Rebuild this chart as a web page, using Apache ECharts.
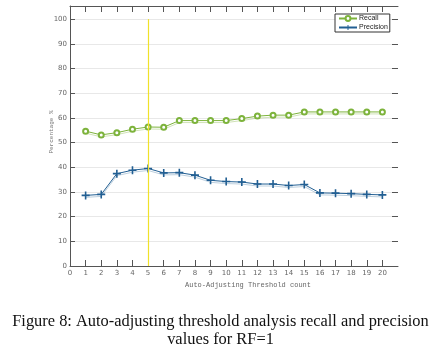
<!DOCTYPE html>
<html><head><meta charset="utf-8">
<script src="https://cdn.jsdelivr.net/npm/echarts@6/dist/echarts.min.js"></script>
<style>html,body{margin:0;padding:0;background:#fff}#c{width:441px;height:356px}</style>
</head><body><div id="c"></div>
<script>
var xValues = [1,2,3,4,5,6,7,8,9,10,11,12,13,14,15,16,17,18,19,20];
var recall = [54.6,53.1,54.0,55.4,56.3,56.2,58.9,58.9,58.9,58.9,59.7,60.7,61.1,61.1,62.4,62.4,62.4,62.4,62.4,62.4];
var precision = [28.6,29.0,37.4,38.8,39.5,37.7,37.8,36.8,34.7,34.2,34.0,33.2,33.2,32.6,33.0,29.6,29.5,29.3,29.0,28.8];
var markerX = 5;
var seriesNames = ['Recall','Precision'];
var xTitle = 'Auto-Adjusting Threshold count';
var yTitle = 'Percentage %';
var captionLines = ['Figure 8: Auto-adjusting threshold analysis recall and precision','values for RF=1'];

var chart = echarts.init(document.getElementById('c'), null, {renderer:'canvas'});
var plus = 'path://M4,0h2v4h4v2h-4v4h-2v-4h-4v-2h4z';
function pairs(v){ return xValues.map(function(x,i){ return [x, v[i]]; }); }
var xTickValues = [0].concat(xValues);
var axisCol = '#555';
chart.setOption({
  animation:false,
  grid:{left:70,right:43,top:6,bottom:90,containLabel:false},
  legend:{
    left:335, top:14, orient:'vertical', itemGap:2, itemWidth:18, itemHeight:6,
    padding:[1,2,1,3], borderColor:'#333', borderWidth:1, backgroundColor:'#fff',
    textStyle:{fontSize:7, lineHeight:7, color:'#222', fontFamily:'Liberation Sans, Arial, sans-serif', padding:[0,0,0,-3]},
    data:seriesNames
  },
  xAxis:[{
    type:'value', min:0, max:21, interval:1, position:'bottom',
    name:xTitle, nameLocation:'middle', nameGap:14,
    nameTextStyle:{fontSize:7, color:'#666', fontFamily:'Liberation Mono, DejaVu Sans Mono, monospace', padding:[0,0,0,28]},
    axisLine:{onZero:false, lineStyle:{color:axisCol, width:1}},
    axisTick:{inside:true, length:6, customValues:xTickValues, lineStyle:{color:axisCol}},
    axisLabel:{fontSize:7, color:'#666', margin:4, fontFamily:'DejaVu Sans, sans-serif',
      formatter:function(v){ return v>20 ? '' : String(v); }},
    splitLine:{show:false}
  },{
    type:'value', min:0, max:21, interval:1, position:'top',
    axisLine:{onZero:false, lineStyle:{color:axisCol, width:1}},
    axisTick:{inside:true, length:6, customValues:xTickValues, lineStyle:{color:axisCol}},
    axisLabel:{show:false}, splitLine:{show:false}
  }],
  yAxis:[{
    type:'value', min:0, max:105.3, interval:10, position:'left',
    name:yTitle, nameLocation:'middle', nameGap:16, nameRotate:90, nameMoveOverlap:false,
    nameTextStyle:{fontSize:6, color:'#777', fontFamily:'Liberation Mono, DejaVu Sans Mono, monospace', padding:[0,0,0,8]},
    axisLine:{show:true, onZero:false, lineStyle:{color:axisCol, width:1}},
    axisTick:{show:true, inside:true, length:5, lineStyle:{color:axisCol}},
    axisLabel:{fontSize:7, color:'#666', margin:3, fontFamily:'DejaVu Sans, sans-serif',
      formatter:function(v){ return v>100 ? '' : String(v); }},
    splitLine:{show:true, lineStyle:{color:'#e8e8e8', width:1}}
  },{
    type:'value', min:0, max:105.3, interval:10, position:'right',
    axisLine:{show:false, onZero:false},
    axisTick:{show:true, inside:true, length:6, lineStyle:{color:axisCol}},
    axisLabel:{show:false}, splitLine:{show:false}
  }],
  series:[{
    name:seriesNames[0], type:'line', data:pairs(recall),
    symbol:'emptyCircle', symbolSize:5, showAllSymbol:true,
    itemStyle:{color:'#7db33c', borderWidth:1},
    lineStyle:{color:'#7db33c', width:1, shadowColor:'rgba(119,172,48,0.35)', shadowBlur:0, shadowOffsetY:2},
    markLine:{
      silent:true, symbol:['none','none'], label:{show:false},
      lineStyle:{color:'#f0e22a', width:1.2, type:'solid'},
      data:[[{coord:[markerX,0]},{coord:[markerX,100]}]]
    },
    z:3
  },{
    name:seriesNames[1], type:'line', data:pairs(precision),
    symbol:plus, symbolSize:8, showAllSymbol:true,
    itemStyle:{color:'#225f93'},
    lineStyle:{color:'#225f93', width:1, shadowColor:'rgba(34,95,147,0.3)', shadowBlur:0, shadowOffsetY:2},
    z:3
  }],
  graphic:[{
    type:'text', left:'center', top:313,
    style:{text:captionLines.join('\n'), font:'16.4px "Liberation Serif", "Times New Roman", serif', fill:'#111', textAlign:'center', lineHeight:18}
  }]
});
</script></body></html>
